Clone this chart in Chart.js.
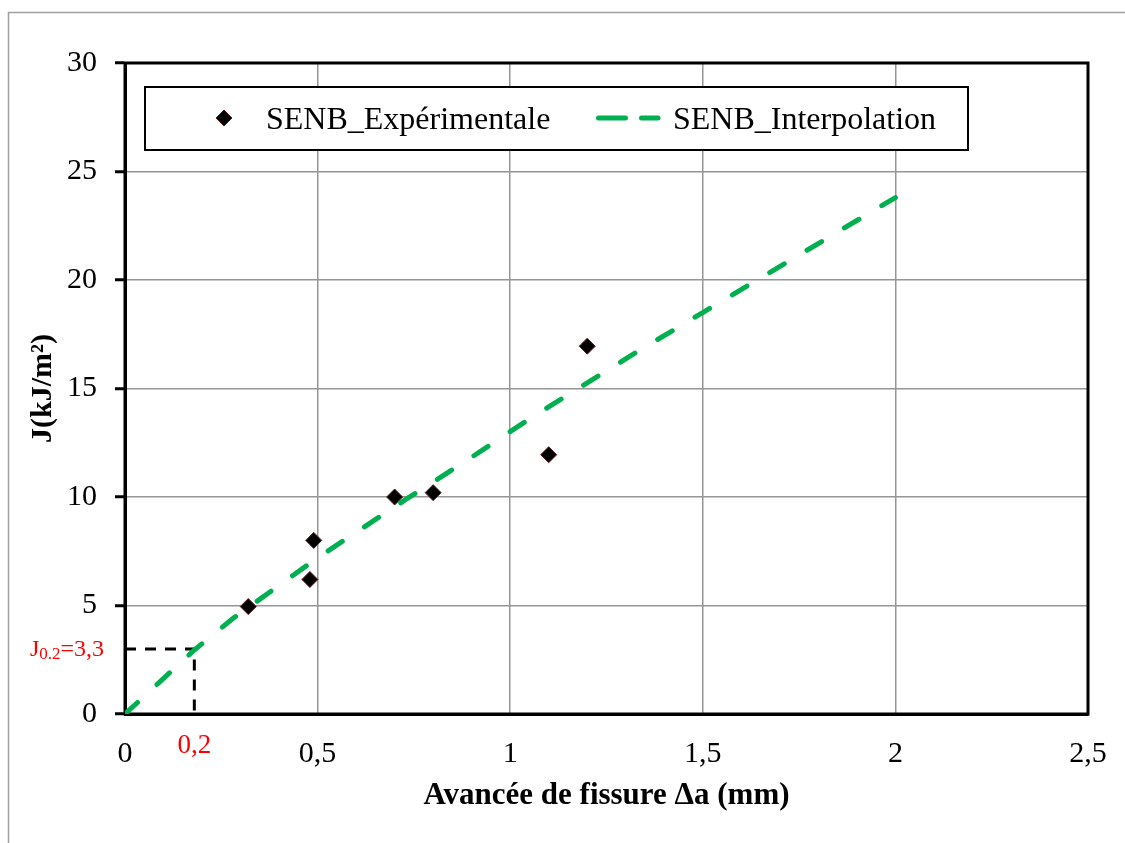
<!DOCTYPE html>
<html>
<head>
<meta charset="utf-8">
<script src="https://cdn.jsdelivr.net/npm/chart.js@4"></script>
<style>
  html, body { margin: 0; padding: 0; background: #fff; }
  #wrap { width: 1125px; height: 843px; position: relative; }
</style>
</head>
<body>
<div id="wrap"><canvas id="c" width="1125" height="843"></canvas></div>
<script>
// ---- data ----
const expLabel = 'SENB_Expérimentale';
const expX = [0.32, 0.48, 0.49, 0.70, 0.80, 1.10, 1.20];
const expY = [4.95, 6.2, 8.0, 10.0, 10.2, 11.95, 16.95];

const interpLabel = 'SENB_Interpolation';
const interpX = [0, 0.18, 0.28, 0.50, 0.73, 0.88, 1.05, 1.24, 1.33, 1.50, 1.66, 2.00];
const interpY = [0, 2.95, 4.4, 7.2, 9.9, 11.6, 13.6, 15.7, 16.7, 18.5, 20.2, 23.8];

const refX = [0, 0.18, 0.18];
const refY = [3.0, 3.0, 0];

const xTickValues = [0, 0.5, 1, 1.5, 2, 2.5];
const xTickLabels = ['0', '0,5', '1', '1,5', '2', '2,5'];
const yTickValues = [0, 5, 10, 15, 20, 25, 30];
const yTickLabels = ['0', '5', '10', '15', '20', '25', '30'];

const xTitle = 'Avancée de fissure Δa (mm)';
const yTitle = 'J(kJ/m²)';
const markX = '0,2';
const markJ = ['J', '0.2', '=3,3'];

const SERIF = '"Liberation Serif", "Times New Roman", serif';
const GREEN = '#00B050';

const zip = (xs, ys) => xs.map((x, i) => ({ x: x, y: ys[i] }));

const framePlugin = {
  id: 'frame',
  beforeDraw(chart) {
    const ctx = chart.ctx;
    ctx.save();
    ctx.fillStyle = '#fff';
    ctx.fillRect(0, 0, chart.width, chart.height);
    ctx.strokeStyle = '#a0a0a0';
    ctx.lineWidth = 1.5;
    ctx.strokeRect(8.5, 12.5, 3000, 3000);
    ctx.restore();
  },
  beforeDatasetsDraw(chart) {
    const a = chart.chartArea, ctx = chart.ctx;
    ctx.save();
    ctx.strokeStyle = '#000';
    ctx.lineWidth = 3;
    ctx.strokeRect(a.left, a.top, a.right - a.left, a.bottom - a.top);
    ctx.restore();
  },
  afterDatasetsDraw(chart) {
    const ctx = chart.ctx;
    const xs = chart.scales.x, ys = chart.scales.y;
    ctx.save();
    // red annotations
    ctx.fillStyle = '#FF0000';
    ctx.font = '27px ' + SERIF;
    ctx.textAlign = 'center';
    ctx.textBaseline = 'alphabetic';
    ctx.fillText(markX, xs.getPixelForValue(0.18), 753);

    const big = '24px ' + SERIF, small = '17px ' + SERIF;
    ctx.font = big; const w1 = ctx.measureText(markJ[0]).width;
    ctx.font = small; const w2 = ctx.measureText(markJ[1]).width;
    ctx.font = big; const w3 = ctx.measureText(markJ[2]).width;
    const right = 104, base = ys.getPixelForValue(3.0) + 7;
    let x0 = right - (w1 + w2 + w3);
    ctx.textAlign = 'left';
    ctx.font = big; ctx.fillText(markJ[0], x0, base); x0 += w1;
    ctx.font = small; ctx.fillText(markJ[1], x0, base + 3); x0 += w2;
    ctx.font = big; ctx.fillText(markJ[2], x0, base);

    // legend box
    const L = 145, T = 87, R = 968, B = 150, cy = 118;
    ctx.fillStyle = '#fff';
    ctx.fillRect(L, T, R - L, B - T);
    ctx.strokeStyle = '#000';
    ctx.lineWidth = 2;
    ctx.strokeRect(L, T, R - L, B - T);
    // diamond marker
    const r = 8, dx = 224;
    ctx.beginPath();
    ctx.moveTo(dx - r, cy); ctx.lineTo(dx, cy - r); ctx.lineTo(dx + r, cy); ctx.lineTo(dx, cy + r); ctx.closePath();
    ctx.fillStyle = '#000'; ctx.fill();
    ctx.strokeStyle = '#5a1a1a'; ctx.lineWidth = 1; ctx.stroke();
    // dashed sample
    ctx.beginPath();
    ctx.strokeStyle = GREEN; ctx.lineWidth = 5; ctx.lineCap = 'round';
    ctx.setLineDash([27, 16]);
    ctx.moveTo(598.5, cy); ctx.lineTo(658, cy); ctx.stroke();
    ctx.setLineDash([]);
    // texts
    ctx.fillStyle = '#000';
    ctx.font = '32px ' + SERIF;
    ctx.textAlign = 'left';
    ctx.fillText(chart.data.datasets[0].label, 266, 129);
    ctx.fillText(chart.data.datasets[1].label, 673, 129);
    ctx.restore();
  }
};

new Chart(document.getElementById('c'), {
  type: 'scatter',
  data: {
    datasets: [
      {
        label: expLabel,
        data: zip(expX, expY),
        pointStyle: 'rectRot',
        pointRadius: 8,
        pointHoverRadius: 8,
        backgroundColor: '#000',
        borderColor: '#5a1a1a',
        pointBorderWidth: 1,
        showLine: false,
        order: 0
      },
      {
        label: interpLabel,
        data: zip(interpX, interpY),
        showLine: true,
        borderColor: GREEN,
        borderWidth: 5,
        borderDash: [17, 26.5],
        borderCapStyle: 'round',
        pointRadius: 0,
        tension: 0,
        fill: false,
        order: 1
      },
      {
        label: 'ref',
        data: zip(refX, refY),
        showLine: true,
        borderColor: '#000',
        borderWidth: 3,
        borderDash: [11, 9],
        pointRadius: 0,
        fill: false,
        order: 2
      }
    ]
  },
  options: {
    responsive: false,
    animation: false,
    devicePixelRatio: 1,
    layout: { padding: { top: 63, right: 37, left: 0, bottom: 0 } },
    plugins: { legend: { display: false }, tooltip: { enabled: false } },
    scales: {
      x: {
        type: 'linear', min: 0, max: 2.5,
        afterFit(s) { s.height = 129; s.paddingRight = 0; s.paddingLeft = 0; },
        afterBuildTicks(s) { s.ticks = xTickValues.map(v => ({ value: v })); },
        ticks: {
          color: '#000',
          font: { family: SERIF, size: 30 },
          padding: 22,
          maxRotation: 0,
          callback: (v) => { const i = xTickValues.indexOf(v); return i >= 0 ? xTickLabels[i] : ''; }
        },
        grid: { color: '#969696', lineWidth: 1.5, drawTicks: false },
        border: { color: '#000', width: 3 },
        title: {
          display: true, text: xTitle, color: '#000',
          font: { family: SERIF, size: 31, weight: 'bold' },
          padding: { top: 0, bottom: 28 }
        }
      },
      y: {
        type: 'linear', min: 0, max: 30,
        afterFit(s) { s.width = 125; s.paddingTop = 0; s.paddingBottom = 0; },
        afterBuildTicks(s) { s.ticks = yTickValues.map(v => ({ value: v })); },
        ticks: {
          color: '#000',
          font: { family: SERIF, size: 30 },
          padding: 18,
          callback: (v) => { const i = yTickValues.indexOf(v); return i >= 0 ? yTickLabels[i] : ''; }
        },
        grid: { color: '#969696', lineWidth: 1.5, drawTicks: true, tickLength: 10, tickColor: '#000', tickWidth: 3 },
        border: { color: '#000', width: 3 },
        title: {
          display: true, text: yTitle, color: '#000',
          font: { family: SERIF, size: 30, weight: 'bold' },
          padding: { top: 25, bottom: 0 }
        }
      }
    }
  },
  plugins: [framePlugin]
});
</script>
</body>
</html>
